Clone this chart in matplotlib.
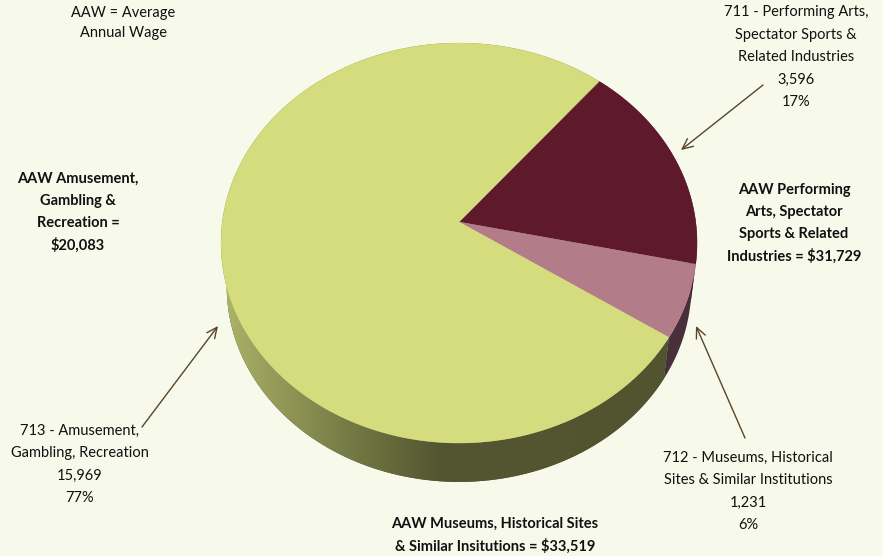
import numpy as np
import matplotlib
matplotlib.use("Agg")
import matplotlib.pyplot as plt
from matplotlib.patches import Polygon

plt.rcParams['font.family'] = ['Lato', 'DejaVu Sans']

# Employment by subsector
codes = ["711", "712", "713"]
names = ["Performing Arts,\nSpectator Sports &\nRelated Industries",
         "Museums, Historical\nSites & Similar Institutions",
         "Amusement,\nGambling, Recreation"]
employment = [3596, 1231, 15969]
percents = [17, 6, 77]
wage_notes = ["AAW Performing\nArts, Spectator\nSports & Related\nIndustries = $31,729",
              "AAW Museums, Historical Sites\n& Similar Insitutions = $33,519",
              "AAW Amusement,\nGambling &\nRecreation =\n$20,083"]
key_note = "AAW = Average\nAnnual Wage"

top_colors = ["#5E1A2C", "#B37C89", "#D5DC7E"]
side_colors = ["#3A1620", "#48303A", "#525430"]
BG = "#F7FAEA"
ARROW = "#5A4428"
TEXT = "#111111"

W, H = 883, 556
fig = plt.figure(figsize=(W / 100, H / 100), dpi=100, facecolor=BG)
ax = fig.add_axes([0, 0, 1, 1])
ax.set_xlim(0, W)
ax.set_ylim(H, 0)
ax.axis("off")

# Perspective view of the unit disk, drawn in pixel space
APEX_X, APEX_Y = 459, 222
C, A, D = 0.105, 197.8, 236.7
DEPTH_SCALE, DEPTH_Y = 0.976, 266.2
START_DEG = 50.2


def project(theta):
    u, v = np.cos(theta), np.sin(theta)
    w = 1 + C * v
    return APEX_X + D * u / w, APEX_Y - A * v / w


def project_low(theta):
    x, y = project(theta)
    return APEX_X + DEPTH_SCALE * (x - APEX_X), DEPTH_Y + DEPTH_SCALE * (y - APEX_Y)


# Slice boundaries, clockwise from the start angle
total = sum(employment)
sweeps = np.radians(np.array(employment) / total * 360)
edges = np.radians(START_DEG) - np.concatenate([[0], np.cumsum(sweeps)])


def side_polygon(t0, t1):
    ts = np.linspace(t0, t1, 240)
    tx, ty = project(ts)
    bx, by = project_low(ts)
    return np.column_stack([np.r_[tx, bx[::-1]], np.r_[ty, by[::-1]]])


# Lower skin of the cake: only the front part of each rim shows
for i in [2, 1, 0]:
    poly = side_polygon(edges[i], edges[i + 1])
    ax.add_patch(Polygon(poly, closed=True, fc=side_colors[i], ec="none", zorder=1))
    if i == 2:
        # The long slice fades from a lit left edge into shadow
        stops_x = np.array([222, 250, 300, 345, 385, 440, 700])
        stops_c = np.array([[0xB0, 0xB5, 0x6A], [0xA0, 0xA5, 0x60], [0x8B, 0x90, 0x52],
                            [0x76, 0x7C, 0x46], [0x67, 0x6C, 0x3C], [0x53, 0x56, 0x31],
                            [0x52, 0x54, 0x30]]) / 255
        xs = np.arange(222, 701)
        grad = np.stack([np.interp(xs, stops_x, stops_c[:, k]) for k in range(3)], axis=-1)[None, :, :]
        img = ax.imshow(grad, extent=(222, 700, 490, 240), aspect="auto", zorder=1.5,
                        interpolation="bilinear")
        img.set_clip_path(Polygon(poly, closed=True, transform=ax.transData))
ax.set_xlim(0, W)
ax.set_ylim(H, 0)

# Top face of the pie
for i in range(3):
    ts = np.linspace(edges[i], edges[i + 1], 300)
    x, y = project(ts)
    pts = np.column_stack([np.r_[APEX_X, x], np.r_[APEX_Y, y]])
    ax.add_patch(Polygon(pts, closed=True, fc=top_colors[i], ec=top_colors[i], lw=0.3, zorder=2))


def centered(x, y, s, weight="normal", step=22.2):
    # Lines are placed one by one to keep an even pixel pitch
    for n, line in enumerate(s.split("\n")):
        ax.text(x, y + n * step, line, ha="center", va="center", fontsize=10.5,
                color=TEXT, fontweight=weight, zorder=4)


def callout(i):
    return f"{codes[i]} - {names[i]}\n{employment[i]:,}\n{percents[i]}%"


centered(123, 13, key_note, step=20)
centered(796, 12, callout(0), step=22.5)
centered(748, 458, callout(1))
centered(80, 431, callout(2))
centered(794, 190, wage_notes[0], weight="bold")
centered(495, 524, wage_notes[1], weight="bold")
centered(78, 179, wage_notes[2], weight="bold")

# Leader arrows from the callouts to their slices
arrow_paths = [((763, 85), (681, 150)), ((745, 438), (696, 326)), ((142, 427), (218, 326))]
for start, end in arrow_paths:
    ax.annotate("", xy=end, xytext=start, zorder=5,
                arrowprops=dict(arrowstyle="->,head_length=0.75,head_width=0.35",
                                color=ARROW, lw=1.0, shrinkA=0, shrinkB=0))

fig.savefig("out.png", dpi=100, facecolor=BG)
